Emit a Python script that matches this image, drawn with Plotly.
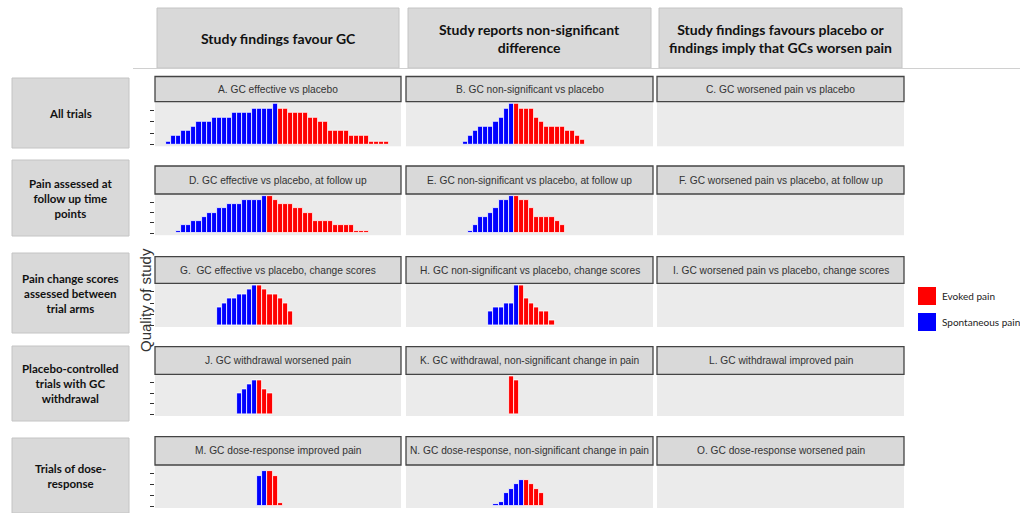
import plotly.graph_objects as go

W, H = 1020, 513

# ---------------- data (quality of study per trial) ----------------
col_headers = ["Study findings favour GC",
               "Study reports non-significant<br>difference",
               "Study findings favours placebo or<br>findings imply that GCs worsen pain"]
row_labels = ["All trials",
              "Pain assessed at<br>follow up time<br>points",
              "Pain change scores<br>assessed between<br>trial arms",
              "Placebo-controlled<br>trials with GC<br>withdrawal",
              "Trials of dose-<br>response"]
panel_titles = [
    ["A. GC effective vs placebo", "B. GC non-significant vs placebo", "C. GC worsened pain vs placebo"],
    ["D. GC effective vs placebo, at follow up", "E. GC non-significant vs placebo, at follow up",
     "F. GC worsened pain vs placebo, at follow up"],
    ["G.  GC effective vs placebo, change scores", "H. GC non-significant vs placebo, change scores",
     "I. GC worsened pain vs placebo, change scores"],
    ["J. GC withdrawal worsened pain", "K. GC withdrawal, non-significant change in pain",
     "L. GC withdrawal improved pain"],
    ["M. GC dose-response improved pain", "N. GC dose-response, non-significant change in pain",
     "O. GC dose-response worsened pain"],
]
legend_names = ["Evoked pain", "Spontaneous pain"]

A_spont = [0.5, 2, 2, 3, 3, 4, 5, 5, 5, 6, 6, 6, 6, 7, 7, 7, 7, 8, 8, 8, 8, 9]
A_evoked = [8, 8, 7, 7, 7, 7, 6, 6, 5, 5, 3, 3, 3, 3, 2, 2, 2, 2, 0.5, 0.5, 0.5, 0.5]
B_spont = [0.5, 2, 3, 4, 4, 4, 5, 6, 8, 9]
B_evoked = [9, 8, 8, 8, 6, 5, 4, 4, 4, 4, 3, 3, 2, 1]
D_spont = [0.5, 2, 2, 3, 3, 4, 5, 5, 6, 6, 7, 7, 7, 8, 8, 8, 8, 9]
D_evoked = [9, 8, 7, 7, 7, 6, 6, 5, 5, 3, 3, 3, 3, 2, 2, 2, 2, 0.5, 0.5, 0.5]
E_spont = [0.5, 2, 4, 4, 5, 6, 8, 8, 9]
E_evoked = [9, 8, 8, 6, 4, 4, 4, 4, 3, 2]
G_spont = [4, 5, 6, 6, 7, 7, 8, 9]
G_evoked = [9, 8, 7, 7, 6, 5, 3]
H_spont = [3, 4, 4, 5, 5, 9]
H_evoked = [9, 6, 5, 4, 3, 3, 1]
J_spont = [5, 6, 7, 8]
J_evoked = [8, 6, 5]
K_spont = []
K_evoked = [9, 8]
M_spont = [7, 8]
M_evoked = [8, 7, 0.7]
N_spont = [0.5, 1, 3, 4, 5, 6]
N_evoked = [6, 5, 4, 3]

# first trial position on the shared x scale of each panel
panel_data = {
    (0, 0): (2, A_spont, A_evoked), (0, 1): (11, B_spont, B_evoked),
    (1, 0): (4, D_spont, D_evoked), (1, 1): (12, E_spont, E_evoked),
    (2, 0): (12, G_spont, G_evoked), (2, 1): (16, H_spont, H_evoked),
    (3, 0): (16, J_spont, J_evoked), (3, 1): (20, K_spont, K_evoked),
    (4, 0): (20, M_spont, M_evoked), (4, 1): (17, N_spont, N_evoked),
}

# ---------------- layout geometry (pixels) ----------------
def fx(x):
    return x / W

def fy(y):
    return 1 - y / H

col_x = [(155, 401), (406, 653), (657, 904)]
row_plot = [(101.7, 146.3), (194.0, 235.2), (283.4, 327.0), (374.3, 416.0), (465.0, 508.0)]
row_strip = [(76.5, 101.7), (166.0, 194.0), (256.7, 283.4), (346.7, 374.3), (436.7, 465.0)]
head_x = [(157, 399), (408, 651), (659, 902)]
head_y = (8, 68)
rowlab_y = [(78, 148), (160, 236), (253, 333), (346, 421), (438, 513)]
rowlab_x = (12, 129)

BLUE = "#0000ff"
RED = "#ff0000"

fig = go.Figure()
layout_axes = {}
shapes = []
annotations = []

strip_font = dict(family="Liberation Sans, Arial", size=10.2, color="#333333")
bold_font = dict(family="Lato, Open Sans, sans-serif", size=12, color="#111111")

for r in range(5):
    for c in range(3):
        k = r * 3 + c + 1
        xa = "xaxis" if k == 1 else f"xaxis{k}"
        ya = "yaxis" if k == 1 else f"yaxis{k}"
        xref = "x" if k == 1 else f"x{k}"
        yref = "y" if k == 1 else f"y{k}"
        x0, x1 = col_x[c]
        y0, y1 = row_plot[r]
        layout_axes[xa] = dict(domain=[fx(x0), fx(x1)], range=[-0.17, 48.33], showgrid=False,
                               zeroline=False, showticklabels=False, ticks="", anchor=yref,
                               fixedrange=True)
        yax = dict(domain=[fy(y1), fy(y0)], range=[-0.45, 9.45], showgrid=False, zeroline=False,
                   showticklabels=False, anchor=xref, fixedrange=True)
        if c == 0:
            yax.update(ticks="outside", ticklen=4, tickwidth=1, tickcolor="#333333",
                       tickvals=[0, 2.5, 5, 7.5])
        else:
            yax.update(ticks="")
        layout_axes[ya] = yax

        if (r, c) in panel_data:
            start, sp, ev = panel_data[(r, c)]
            xs_sp = [start + i + 0.5 for i in range(len(sp))]
            xs_ev = [start + len(sp) + i + 0.5 for i in range(len(ev))]
            if sp:
                fig.add_trace(go.Bar(x=xs_sp, y=sp, width=1, xaxis=xref, yaxis=yref,
                                     marker=dict(color=BLUE, line=dict(color="white", width=0.8)),
                                     name=legend_names[1], showlegend=False, hoverinfo="skip"))
            if ev:
                fig.add_trace(go.Bar(x=xs_ev, y=ev, width=1, xaxis=xref, yaxis=yref,
                                     marker=dict(color=RED, line=dict(color="white", width=0.8)),
                                     name=legend_names[0], showlegend=False, hoverinfo="skip"))
        else:
            fig.add_trace(go.Bar(x=[], y=[], xaxis=xref, yaxis=yref, showlegend=False))

        # strip
        s0, s1 = row_strip[r]
        shapes.append(dict(type="rect", xref="paper", yref="paper",
                           x0=fx(x0), x1=fx(x1), y0=fy(s1), y1=fy(s0),
                           fillcolor="#d9d9d9", line=dict(color="#444444", width=1.3)))
        annotations.append(dict(xref="paper", yref="paper", x=fx((x0 + x1) / 2), y=fy((s0 + s1) / 2),
                                text=panel_titles[r][c], showarrow=False, font=strip_font,
                                xanchor="center", yanchor="middle"))

# column headers
for c in range(3):
    x0, x1 = head_x[c]
    shapes.append(dict(type="rect", xref="paper", yref="paper", x0=fx(x0), x1=fx(x1),
                       y0=fy(head_y[1]), y1=fy(head_y[0]), fillcolor="#d9d9d9",
                       line=dict(color="#c4c4c4", width=1)))
    annotations.append(dict(xref="paper", yref="paper", x=fx((x0 + x1) / 2),
                            y=fy((head_y[0] + head_y[1]) / 2), text="<b>" + col_headers[c] + "</b>",
                            showarrow=False, font=dict(bold_font, size=14), xanchor="center",
                            yanchor="middle"))
shapes.append(dict(type="line", xref="paper", yref="paper", x0=fx(133), x1=1, y0=fy(68.5), y1=fy(68.5),
                   line=dict(color="#d0d0d0", width=1)))

# row labels
for r in range(5):
    y0, y1 = rowlab_y[r]
    shapes.append(dict(type="rect", xref="paper", yref="paper", x0=fx(rowlab_x[0]), x1=fx(rowlab_x[1]),
                       y0=fy(y1), y1=fy(y0), fillcolor="#d9d9d9", line=dict(color="#c4c4c4", width=1)))
    annotations.append(dict(xref="paper", yref="paper", x=fx(sum(rowlab_x) / 2), y=fy((y0 + y1) / 2),
                            text="<b>" + row_labels[r] + "</b>", showarrow=False,
                            font=dict(bold_font, size=11.5), xanchor="center", yanchor="middle"))

# y axis title
annotations.append(dict(xref="paper", yref="paper", x=fx(145), y=fy(300), text="Quality of study",
                        textangle=-90, showarrow=False,
                        font=dict(family="Liberation Sans, Arial", size=15, color="#333333"),
                        xanchor="center", yanchor="middle"))

# legend
leg = [(RED, legend_names[0], 287, 305), (BLUE, legend_names[1], 313, 331)]
for col, name, y0, y1 in leg:
    shapes.append(dict(type="rect", xref="paper", yref="paper", x0=fx(918), x1=fx(936),
                       y0=fy(y1), y1=fy(y0), fillcolor=col, line=dict(width=0)))
    annotations.append(dict(xref="paper", yref="paper", x=fx(940), y=fy((y0 + y1) / 2), text=name,
                            showarrow=False, font=dict(family="Lato, Open Sans, sans-serif", size=10,
                                                       color="#222222"),
                            xanchor="left", yanchor="middle"))

fig.update_layout(width=W, height=H, margin=dict(l=0, r=0, t=0, b=0),
                  paper_bgcolor="white", plot_bgcolor="#ebebeb", barmode="overlay",
                  bargap=0, shapes=shapes, annotations=annotations, showlegend=False,
                  **layout_axes)

fig.write_html("out.html", config={"displayModeBar": False},
               post_script="document.body.style.margin='0';")
